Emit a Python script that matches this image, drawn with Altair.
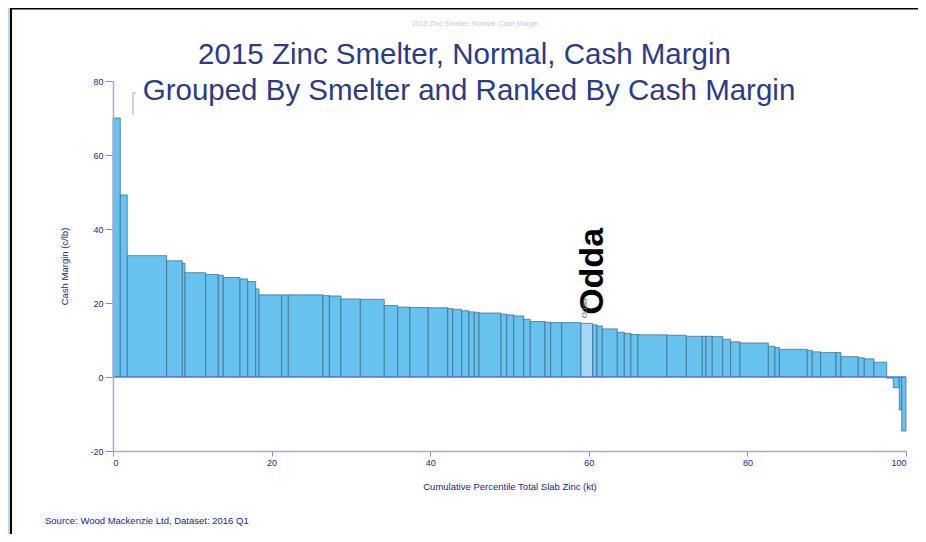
import altair as alt
import pandas as pd

# Cumulative percentile at the right edge of each smelter bar
ends = [0.92, 1.80, 6.77, 8.74, 9.08, 11.69, 13.28, 13.91, 16.02, 16.99,
        17.99, 18.41, 21.27, 22.11, 26.48, 27.28, 28.75, 31.19, 34.21, 35.90,
        37.45, 39.76, 42.21, 42.84, 43.97, 44.89, 45.56, 46.15, 48.93, 49.65,
        50.53, 51.79, 52.62, 54.48, 55.20, 56.58, 59.02, 60.49, 61.03, 61.70,
        63.59, 64.48, 65.32, 66.20, 69.86, 72.30, 74.31, 74.78, 75.57, 76.89,
        77.89, 79.07, 82.64, 83.48, 84.03, 87.55, 88.18, 89.24, 91.17, 91.80,
        93.98, 94.74, 95.96, 97.57, 98.40, 99.15, 99.46, 100.0]
# Cash margin (c/lb)
margins = [70, 49.2, 32.8, 31.4, 30.7, 28.2, 27.7, 27.5, 26.9, 26.5,
           25.8, 23.8, 22.2, 22.2, 22.2, 22.0, 21.9, 21.1, 21.0, 19.3,
           18.9, 18.8, 18.7, 18.5, 18.3, 17.9, 17.6, 17.5, 17.3, 17.0,
           16.8, 16.5, 15.6, 15.0, 14.8, 14.7, 14.7, 14.5, 14.1, 13.8,
           13.0, 12.1, 11.8, 11.5, 11.4, 11.3, 11.0, 11.0, 11.0, 10.9,
           10.2, 9.5, 9.2, 8.3, 8.0, 7.5, 7.2, 6.8, 6.6, 6.6,
           5.5, 5.2, 4.9, 4.0, -0.3, -2.9, -8.9, -14.6]
names = [""] * len(ends)
names[37] = "Odda"

x_ticks = [0, 20, 40, 60, 80, 100]
y_ticks = [-20, 0, 20, 40, 60, 80]

title_1 = "2015 Zinc Smelter, Normal, Cash Margin"
title_2 = "Grouped By Smelter and Ranked By Cash Margin"
source = "Source: Wood Mackenzie Ltd, Dataset: 2016 Q1"
highlight = "Odda"

starts = [0.0] + ends[:-1]
df = pd.DataFrame({"start": starts, "end": ends, "margin": margins,
                   "name": names, "base": [0] * len(ends)})

FONT = "Liberation Sans"
NARROW = "'Liberation Sans Narrow', 'Liberation Sans', Arial, sans-serif"
NAVY = "#22229a"

xs = alt.Scale(domain=[0, 100], nice=False, zero=False)
ys = alt.Scale(domain=[-20, 80], nice=False, zero=False)

one = pd.DataFrame({"k": [0]})

panel = alt.Chart(one).mark_rect(fill="white", stroke="black", strokeWidth=2).encode(
    x=alt.value(-102), x2=alt.value(830), y=alt.value(-72.5), y2=alt.value(480)
)

bars = alt.Chart(df).mark_rect(stroke="#3b6a85", strokeWidth=0.8, strokeOpacity=0.9).encode(
    x=alt.X("start:Q", scale=xs,
            axis=alt.Axis(values=x_ticks, labelExpr="'' + datum.value", zindex=1,
                          title="Cumulative Percentile Total Slab Zinc (kt)")),
    x2="end:Q",
    y=alt.Y("margin:Q", scale=ys,
            axis=alt.Axis(values=y_ticks, labelExpr="'' + datum.value", zindex=1,
                          title="Cash Margin (c/lb)")),
    y2="base:Q",
    fill=alt.condition("datum.name == 'Odda'", alt.value("#a3d9f6"), alt.value("#67c2ef")),
)

zero = alt.Chart(pd.DataFrame({"x": [0], "x2": [100], "y": [0]})).mark_rule(
    color="#5c5cff", strokeWidth=1
).encode(x=alt.X("x:Q", scale=xs), x2="x2:Q", y=alt.Y("y:Q", scale=ys))

ann = pd.DataFrame({"x": [61.8], "y": [16.8], "t": [highlight]})
big_label = alt.Chart(ann).mark_text(
    font=FONT, fontSize=34, fontWeight="bold", color="black", angle=270,
    align="left", baseline="alphabetic"
).encode(x=alt.X("x:Q", scale=xs), y=alt.Y("y:Q", scale=ys), text="t:N")

small = pd.DataFrame({"x": [59.72], "y": [15.9], "t": [highlight]})
small_label = alt.Chart(small).mark_text(
    font=FONT, fontSize=8, color="#6a6a6a", angle=270, align="left", baseline="alphabetic"
).encode(x=alt.X("x:Q", scale=xs), y=alt.Y("y:Q", scale=ys), text="t:N")

t1 = alt.Chart(one).mark_text(font=FONT, fontSize=29.5, color="#2b3b85", align="center",
                              baseline="alphabetic").encode(
    x=alt.value(351.5), y=alt.value(-17), text=alt.value(title_1))
t2 = alt.Chart(one).mark_text(font=FONT, fontSize=29.5, color="#2b3b85", align="center",
                              baseline="alphabetic").encode(
    x=alt.value(356), y=alt.value(19), text=alt.value(title_2))
t0 = alt.Chart(one).mark_text(font=FONT, fontSize=7, color="#c5c9e4", align="center",
                              baseline="alphabetic").encode(
    x=alt.value(362), y=alt.value(-55), text=alt.value(title_1))
src = alt.Chart(one).mark_text(font=NARROW, fontSize=9.5, color=NAVY, align="left",
                               baseline="alphabetic").encode(
    x=alt.value(-68), y=alt.value(443), text=alt.value(source))

br1 = alt.Chart(one).mark_rule(color="#a4a4d4", strokeWidth=1).encode(
    x=alt.value(20), y=alt.value(12), y2=alt.value(34))
br2 = alt.Chart(one).mark_rule(color="#a4a4d4", strokeWidth=1).encode(
    x=alt.value(20), x2=alt.value(23), y=alt.value(12))

chart = alt.layer(panel, bars, zero, big_label, small_label, t0, t1, t2, src, br1, br2).properties(
    width=793, height=370,
    autosize=alt.AutoSizeParams(type="none"),
    padding={"left": 105, "top": 73, "right": 12, "bottom": 83},
    background="#a9dcf2",
).configure_view(stroke=None).configure_axis(
    grid=False,
    domainColor="#a6a6da", domainWidth=1.5,
    tickColor="#8d8da8", tickWidth=1,
    labelColor=NAVY, labelFont=NARROW, labelFontSize=9,
    titleColor=NAVY, titleFont=NARROW, titleFontSize=9.5, titleFontWeight="normal",
).configure_axisX(
    tickSize=5, labelPadding=2, titlePadding=14,
).configure_axisY(
    tickSize=8, labelPadding=2, titlePadding=20,
)

chart.save("out.html", embed_options={"renderer": "svg", "actions": False})
